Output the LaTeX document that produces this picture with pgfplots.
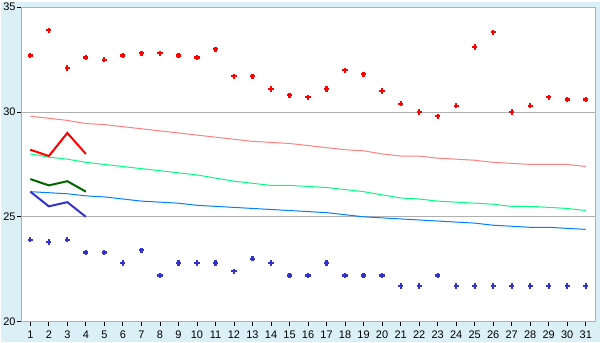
\documentclass[border=0pt]{standalone}
\usepackage{fontspec}
\setmainfont{Liberation Sans}
\usepackage{pgfplots}
\pgfplotsset{compat=1.18}
\definecolor{bgc}{RGB}{219,239,247}
\definecolor{gridc}{RGB}{176,176,176}
\definecolor{pinkc}{RGB}{255,128,128}
\definecolor{lgreenc}{RGB}{0,255,128}
\definecolor{lbluec}{RGB}{0,128,255}
\definecolor{dbluec}{RGB}{51,51,204}
\definecolor{dgreenc}{RGB}{0,102,0}
\begin{document}
\begin{tikzpicture}[x=1pt,y=1pt]
\fill[bgc] (0,0) rectangle (600,340);
\begin{axis}[
  at={(20pt,20pt)}, anchor=south west,
  width=575pt, height=315pt, scale only axis,
  xmin=0.5, xmax=31.5, ymin=20, ymax=35,
  xtick={1,...,31}, ytick={20,25,30,35},
  ymajorgrids, grid style={color=gridc, line width=1pt},
  axis line style={gridc, line width=1pt},
  tick style={black, line width=0.8pt},
  tick align=outside, major tick length=4pt,
  xtick pos=bottom, ytick pos=left,
  axis background/.style={fill=white},
  ticklabel style={font=\fontsize{11}{13}\selectfont},
  xticklabel style={yshift=-2pt},
  yticklabel style={xshift=2pt},
  /pgf/number format/assume math mode=true,
]
% thin trend lines
\addplot[pinkc, line width=1pt] coordinates {
(1,29.8)(2,29.7)(3,29.6)(4,29.45)(5,29.4)(6,29.3)(7,29.2)(8,29.1)(9,29.0)(10,28.9)
(11,28.8)(12,28.7)(13,28.6)(14,28.55)(15,28.5)(16,28.4)(17,28.3)(18,28.2)(19,28.15)(20,28.0)
(21,27.9)(22,27.9)(23,27.8)(24,27.75)(25,27.7)(26,27.6)(27,27.55)(28,27.5)(29,27.5)(30,27.5)(31,27.4)};
\addplot[lgreenc, line width=1pt] coordinates {
(1,28.0)(2,27.85)(3,27.75)(4,27.6)(5,27.5)(6,27.4)(7,27.3)(8,27.2)(9,27.1)(10,27.0)
(11,26.85)(12,26.7)(13,26.6)(14,26.5)(15,26.5)(16,26.45)(17,26.4)(18,26.3)(19,26.2)(20,26.05)
(21,25.9)(22,25.85)(23,25.75)(24,25.7)(25,25.65)(26,25.6)(27,25.5)(28,25.5)(29,25.45)(30,25.4)(31,25.3)};
\addplot[lbluec, line width=1pt] coordinates {
(1,26.2)(2,26.15)(3,26.1)(4,26.0)(5,25.95)(6,25.85)(7,25.75)(8,25.7)(9,25.65)(10,25.55)
(11,25.5)(12,25.45)(13,25.4)(14,25.35)(15,25.3)(16,25.25)(17,25.2)(18,25.1)(19,25.0)(20,24.95)
(21,24.9)(22,24.85)(23,24.8)(24,24.75)(25,24.7)(26,24.6)(27,24.55)(28,24.5)(29,24.5)(30,24.45)(31,24.4)};
% thick short lines
\addplot[red, line width=2pt] coordinates {(1,28.2)(2,27.9)(3,29.0)(4,28.0)};
\addplot[dgreenc, line width=2pt] coordinates {(1,26.8)(2,26.5)(3,26.7)(4,26.2)};
\addplot[dbluec, line width=2pt] coordinates {(1,26.2)(2,25.5)(3,25.7)(4,25.0)};
% points
\addplot[only marks, mark=+, mark size=2.6pt, mark options={red, line width=2.2pt}] coordinates {
(1,32.7)(2,33.9)(3,32.1)(4,32.6)(5,32.5)(6,32.7)(7,32.8)(8,32.8)(9,32.7)(10,32.6)
(11,33.0)(12,31.7)(13,31.7)(14,31.1)(15,30.8)(16,30.7)(17,31.1)(18,32.0)(19,31.8)(20,31.0)
(21,30.4)(22,30.0)(23,29.8)(24,30.3)(25,33.1)(26,33.8)(27,30.0)(28,30.3)(29,30.7)(30,30.6)(31,30.6)};
\addplot[only marks, mark=+, mark size=2.6pt, mark options={dbluec, line width=2.2pt}] coordinates {
(1,23.9)(2,23.8)(3,23.9)(4,23.3)(5,23.3)(6,22.8)(7,23.4)(8,22.2)(9,22.8)(10,22.8)
(11,22.8)(12,22.4)(13,23.0)(14,22.8)(15,22.2)(16,22.2)(17,22.8)(18,22.2)(19,22.2)(20,22.2)
(21,21.7)(22,21.7)(23,22.2)(24,21.7)(25,21.7)(26,21.7)(27,21.7)(28,21.7)(29,21.7)(30,21.7)(31,21.7)};
\end{axis}
\end{tikzpicture}
\end{document}
